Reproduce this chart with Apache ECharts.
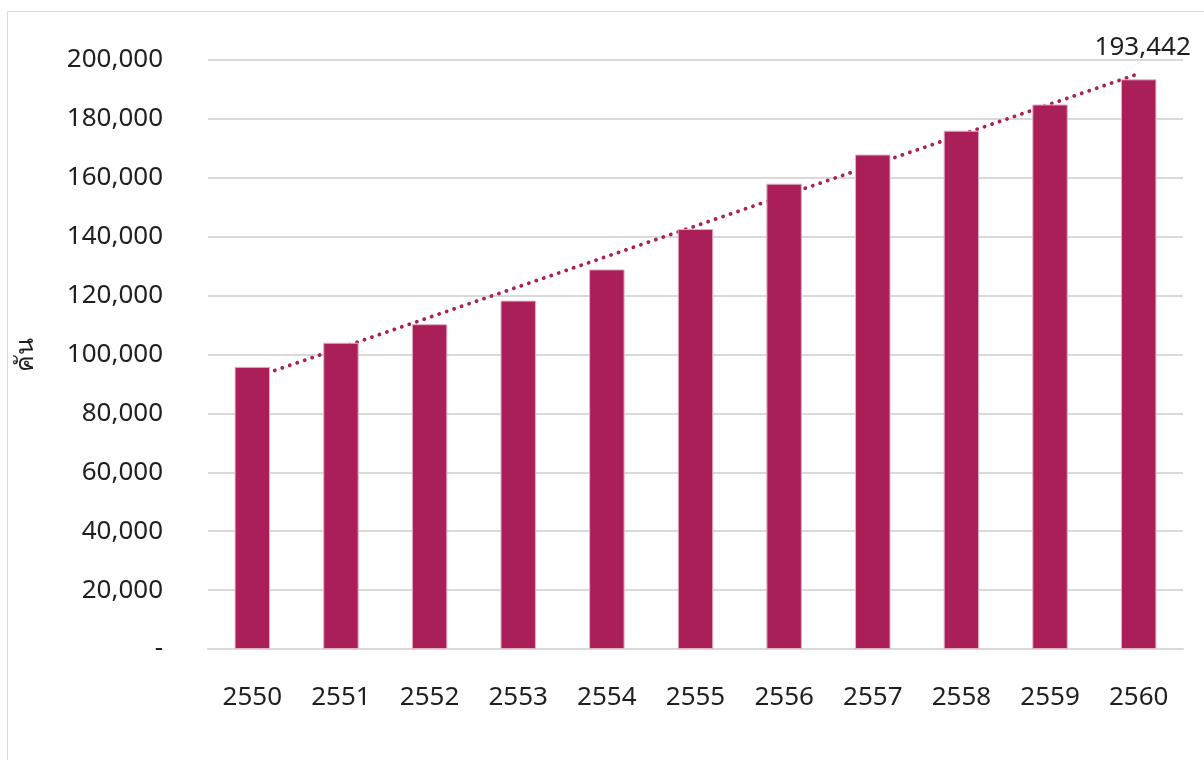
<!DOCTYPE html>
<html>
<head>
<meta charset="utf-8">
<title>คัน 2550-2560</title>
<script src="https://cdn.jsdelivr.net/npm/echarts@6/dist/echarts.min.js"></script>
<style>
  html, body { margin: 0; padding: 0; background: #ffffff; }
  #chart { width: 1204px; height: 760px; }
</style>
</head>
<body>
<div id="chart"></div>
<script>
// Years (Buddhist era) and vehicle counts
const years = ['2550', '2551', '2552', '2553', '2554', '2555', '2556', '2557', '2558', '2559', '2560'];
const vehicles = [95800, 104000, 110300, 118300, 128900, 142600, 158000, 167900, 176000, 184900, 193442];
const yTicks = [0, 20000, 40000, 60000, 80000, 100000, 120000, 140000, 160000, 180000, 200000];
const yAxisName = 'คัน';

// Least-squares linear trend over the category index
function linearTrend(values) {
  const n = values.length;
  let sx = 0, sy = 0, sxx = 0, sxy = 0;
  values.forEach((v, i) => { sx += i; sy += v; sxx += i * i; sxy += i * v; });
  const slope = (n * sxy - sx * sy) / (n * sxx - sx * sx);
  const intercept = (sy - slope * sx) / n;
  return values.map((_, i) => intercept + slope * i);
}
const trend = linearTrend(vehicles);

const barColor = '#AA1F58';
const textColor = '#1f1f1f';
const fontFamily = '"Noto Sans", "Open Sans", sans-serif';

const chart = echarts.init(document.getElementById('chart'), null, { renderer: 'canvas' });
chart.setOption({
  animation: false,
  backgroundColor: '#ffffff',
  graphic: [{
    type: 'rect',
    shape: { x: 7.5, y: 11.5, width: 1205, height: 760 },
    style: { fill: 'none', stroke: '#d9d9d9', lineWidth: 1 },
    silent: true,
    z: 0
  }],
  grid: { left: 208, right: 21, top: 60, bottom: 111, containLabel: false },
  xAxis: {
    type: 'category',
    data: years,
    boundaryGap: true,
    axisLine: { show: true, lineStyle: { color: '#d9d9d9', width: 2 } },
    axisTick: { show: false },
    axisLabel: { color: textColor, fontSize: 26, fontFamily: fontFamily, margin: 36 }
  },
  yAxis: {
    type: 'value',
    min: yTicks[0],
    max: yTicks[yTicks.length - 1],
    interval: yTicks[1] - yTicks[0],
    name: yAxisName,
    nameLocation: 'middle',
    nameRotate: 90,
    nameGap: 170,
    nameTextStyle: { color: textColor, fontSize: 25, fontFamily: fontFamily },
    axisLine: { show: false },
    axisTick: { show: false },
    splitLine: { lineStyle: { color: '#d9d9d9', width: 2 } },
    axisLabel: {
      color: textColor,
      fontSize: 26,
      fontFamily: fontFamily,
      margin: 45,
      formatter: v => v === 0 ? '-' : v.toLocaleString('en-US')
    }
  },
  series: [
    {
      name: 'trend',
      type: 'line',
      data: trend,
      symbol: 'none',
      z: 1,
      lineStyle: { color: barColor, width: 3.8, type: [0.1, 7.8], cap: 'round' },
      silent: true
    },
    {
      name: yAxisName,
      type: 'bar',
      data: vehicles.map((v, i) => i === vehicles.length - 1 ? {
        value: v,
        label: {
          show: true,
          position: 'top',
          distance: 19,
          offset: [4, 0],
          color: textColor,
          fontSize: 26,
          fontFamily: fontFamily,
          formatter: p => p.value.toLocaleString('en-US')
        }
      } : v),
      barWidth: '40%',
      z: 2,
      itemStyle: { color: barColor, borderColor: '#e2b0c3', borderWidth: 1 }
    }
  ]
});
</script>
</body>
</html>
